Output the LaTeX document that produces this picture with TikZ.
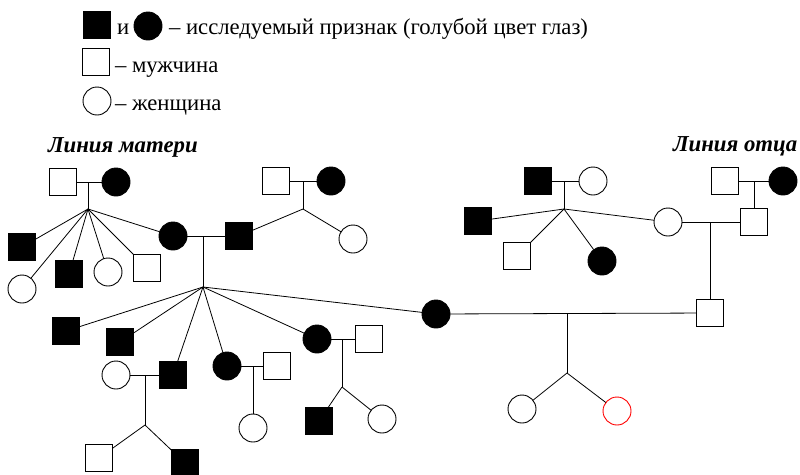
\documentclass[tikz,border=0pt]{standalone}
\usepackage{fontspec}
\setmainfont{Liberation Serif}
\begin{document}
\begin{tikzpicture}[x=1pt,y=-1pt,
  every node/.style={inner sep=0pt, outer sep=0pt},
  male/.style={draw, line width=0.9pt, minimum size=27pt},
  female/.style={circle, draw, line width=0.9pt, minimum size=28pt},
  aff/.style={fill=black},
  link/.style={line width=0.8pt},
  lbl/.style={font=\fontsize{22.7}{24}\selectfont, anchor=base west},
  side/.style={font=\fontsize{22.8}{24}\selectfont\bfseries\itshape, anchor=base west}]
\useasboundingbox (0,0) rectangle (800,474);

% legend
\node[male,aff] (lA) at (97,25) {};
\node[lbl] (lI) at (117,34) {и};
\node[female,aff] (lB) at (148,26) {};
\node[lbl] (lT) at (169,34) {– исследуемый признак (голубой цвет глаз)};
\node[male] (lM) at (96,62) {};
\node[lbl] (lMt) at (115,72) {– мужчина};
\node[female] (lF) at (97,101) {};
\node[lbl] (lFt) at (115,110) {– женщина};

% side captions
\node[side] (sM) at (48,152) {Линия матери};
\node[side] (sF) at (673,151) {Линия отца};

% mother's line: grandparents and their children
\node[male] (gf1) at (63,182) {};
\node[female,aff] (gm1) at (116,182) {};
\coordinate (j1) at (88,209);
\node[male,aff] (c1) at (22,247) {};
\node[female] (c2) at (22,289) {};
\node[male,aff] (c3) at (69,274) {};
\node[female] (c4) at (108,272) {};
\node[male] (c5) at (147,268) {};
\node[female,aff] (M) at (173,236) {};

\node[male] (gf2) at (276,181) {};
\node[female,aff] (gm2) at (331,181) {};
\coordinate (j2) at (303,209);
\node[male,aff] (F) at (239,236) {};
\node[female] (c6) at (353,239) {};

% children of M and F
\coordinate (j3) at (203,287);
\node[male,aff] (d1) at (66,331) {};
\node[male,aff] (d2) at (120,342) {};
\node[male,aff] (d3) at (173,375) {};
\node[female] (w3) at (116,375) {};
\coordinate (j4) at (145,425);
\node[male] (e1) at (99,458) {};
\node[male,aff] (e2) at (185,463) {};
\node[female,aff] (d4) at (227,366) {};
\node[male] (h4) at (277,366) {};
\node[female] (e3) at (253,428) {};
\node[female,aff] (d5) at (317,339) {};
\node[male] (h5) at (369,339) {};
\coordinate (j5) at (342,387);
\node[male,aff] (e4) at (319,421) {};
\node[female] (e5) at (382,419) {};
\node[female,aff] (P) at (436,314) {};

% father's line
\node[male,aff] (gf3) at (538,181) {};
\node[female] (gm3) at (593,181) {};
\coordinate (j6) at (564,209);
\node[male,aff] (p1) at (478,221) {};
\node[male] (p2) at (517,256) {};
\node[female,aff] (p3) at (602,261) {};
\node[female] (PM) at (668,222) {};
\node[male] (gf4) at (725,181) {};
\node[female,aff] (gm4) at (783,181) {};
\node[male] (PF) at (754,222) {};
\node[male] (Q) at (710,313) {};

% the couple P and Q with their daughters
\coordinate (j8) at (567,373);
\node[female] (r1) at (522,409) {};
\node[female,draw=red] (r2) at (617,411) {};

% marriage lines and descent lines
\draw[link] (gf1) -- (gm1);
\draw[link] (j1 |- gf1) -- (j1);
\foreach \c in {c1,c2,c3,c4,c5,M} \draw[link] (j1) -- (\c);

\draw[link] (gf2) -- (gm2);
\draw[link] (j2 |- gf2) -- (j2);
\foreach \c in {F,c6} \draw[link] (j2) -- (\c);

\draw[link] (M) -- (F);
\draw[link] (j3 |- M) -- (j3);
\foreach \c in {d1,d2,d3,d4,d5,P} \draw[link] (j3) -- (\c);

\draw[link] (w3) -- (d3);
\draw[link] (j4 |- d3) -- (j4);
\foreach \c in {e1,e2} \draw[link] (j4) -- (\c);

\draw[link] (d4) -- (h4);
\draw[link] (e3 |- d4) -- (e3);

\draw[link] (d5) -- (h5);
\draw[link] (j5 |- d5) -- (j5);
\foreach \c in {e4,e5} \draw[link] (j5) -- (\c);

\draw[link] (gf3) -- (gm3);
\draw[link] (j6 |- gf3) -- (j6);
\foreach \c in {p1,p2,p3,PM} \draw[link] (j6) -- (\c);

\draw[link] (gf4) -- (gm4);
\draw[link] (PF |- gf4) -- (PF);

\draw[link] (PM) -- (PF);
\draw[link] (Q |- PM) -- (Q);

\draw[link] (P) -- (Q);
\draw[link] (j8 |- P) -- (j8);
\foreach \c in {r1,r2} \draw[link] (j8) -- (\c);
\end{tikzpicture}
\end{document}
